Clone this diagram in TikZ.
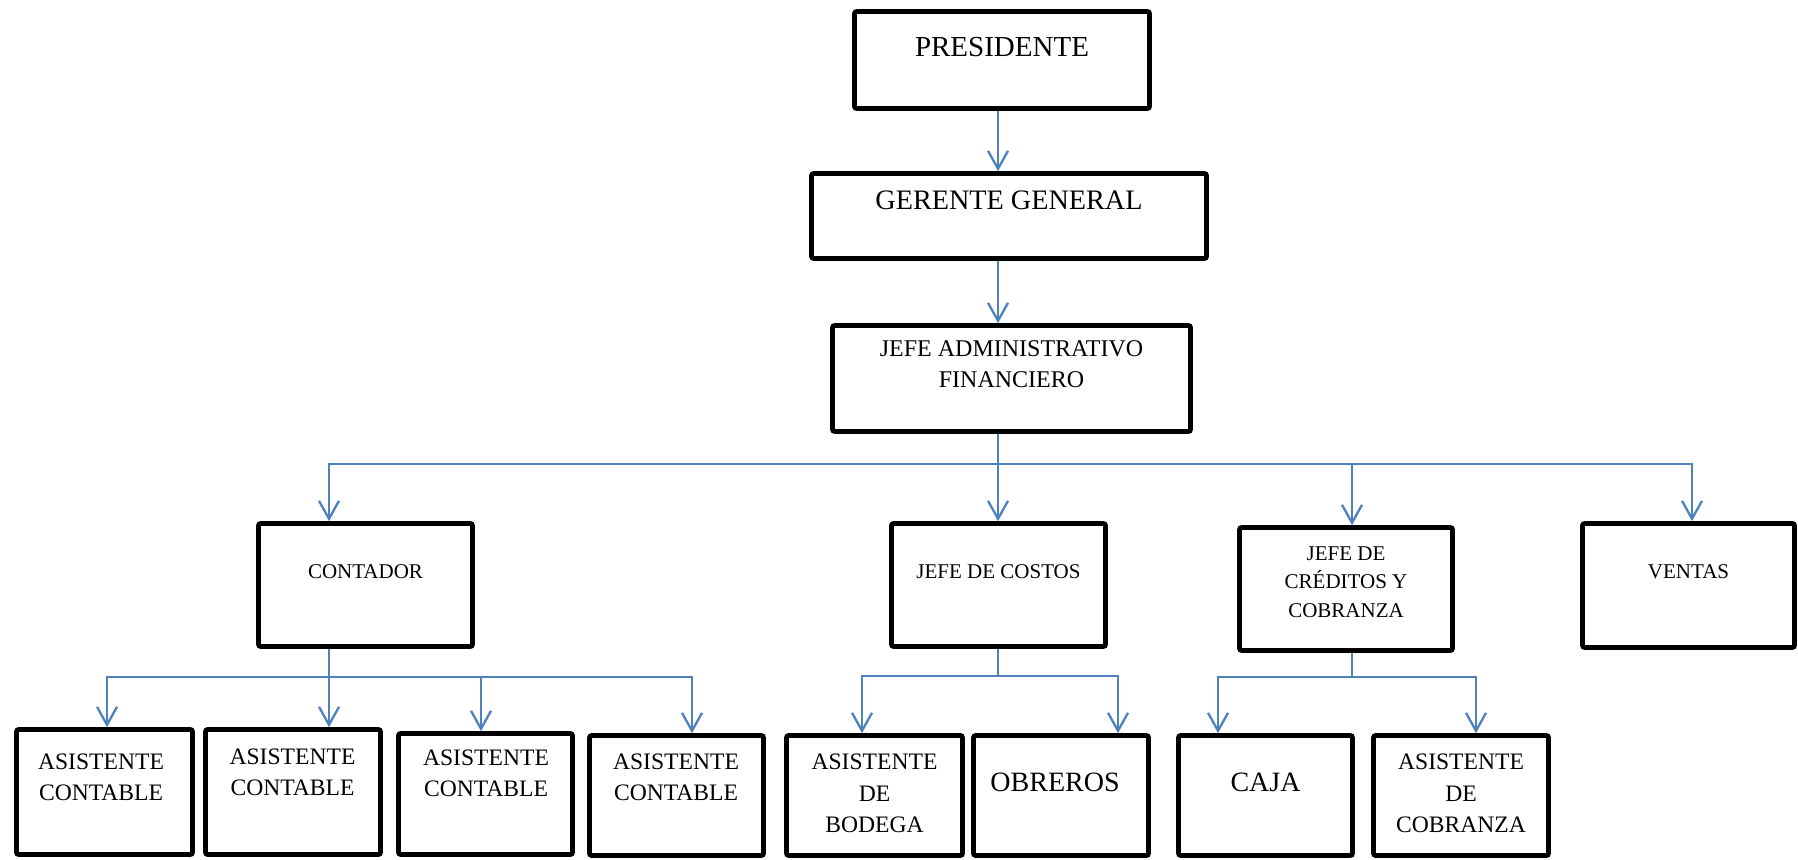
\documentclass[tikz,border=0pt]{standalone}
\usepackage{fontspec}
\setmainfont{Liberation Serif}
\usetikzlibrary{arrows.meta}
\definecolor{lineblue}{RGB}{79,129,189}
\begin{document}
\begin{tikzpicture}[x=0.5pt,y=-0.5pt,
  box/.style 2 args={draw=black, line width=2.3pt, rounded corners=1pt, inner sep=0pt,
    minimum width=#1*0.5pt, minimum height=#2*0.5pt},
  lbl/.style={inner sep=0pt, align=center},
  big/.style={lbl, font=\fontsize{14.5}{17}\selectfont},
  mid/.style={lbl, font=\fontsize{12}{15.5}\selectfont},
  small/.style={lbl, font=\fontsize{10.5}{14.25}\selectfont},
  asis/.style={lbl, font=\fontsize{11.8}{15.6}\selectfont},
  arr/.style={draw=lineblue, line width=1.15pt, line join=miter,
    -{Straight Barb[length=9pt,width=10pt,line width=1.15pt]}},
  link/.style={draw=lineblue, line width=1.15pt}]
\useasboundingbox (0,0) rectangle (1798,860);

% ---- boxes ----
\node[box={295}{97}]  (pres) at (1002,60) {};
\node[box={395}{85}]  (ger)  at (1009,216) {};
\node[box={358}{106}] (jaf)  at (1011.5,378.5) {};

\node[box={214}{123}] (cont) at (365.5,585) {};
\node[box={214}{123}] (cost) at (998.5,585) {};
\node[box={213}{123}] (cred) at (1346,589) {};
\node[box={212}{124}] (vent) at (1688.5,585.5) {};

\node[box={176}{125}] (ac1)  at (104.5,792) {};
\node[box={175}{125}] (ac2)  at (293,792) {};
\node[box={174}{121}] (ac3)  at (485.5,794) {};
\node[box={174}{120}] (ac4)  at (676.5,795.5) {};
\node[box={176}{120}] (bod)  at (874.5,795.5) {};
\node[box={175}{120}] (obr)  at (1061,795.5) {};
\node[box={174}{120}] (caja) at (1265.5,795.5) {};
\node[box={175}{120}] (acob) at (1461,795.5) {};

% ---- labels ----
\node[big] (pres-t) at (1002,47) {PRESIDENTE};
\node[big, font=\fontsize{14.1}{17}\selectfont] (ger-t) at (1009,200) {GERENTE GENERAL};
\node[mid] (jaf-t) at (1011.5,364.5) {JEFE ADMINISTRATIVO\\FINANCIERO};

\node[small] (cont-t) at (365.5,572) {CONTADOR};
\node[small] (cost-t) at (998.5,572) {JEFE DE COSTOS};
\node[small] (cred-t) at (1346,582) {JEFE DE\\CRÉDITOS Y\\COBRANZA};
\node[small] (vent-t) at (1688.5,572) {VENTAS};

\node[asis] (ac1-t) at (101,777.5) {ASISTENTE\\CONTABLE};
\node[asis] (ac2-t) at (292.5,772) {ASISTENTE\\CONTABLE};
\node[asis] (ac3-t) at (486,773.5) {ASISTENTE\\CONTABLE};
\node[asis] (ac4-t) at (676,777) {ASISTENTE\\CONTABLE};
\node[asis, font=\fontsize{11.8}{15.75}\selectfont] (bod-t) at (874.5,793.5) {ASISTENTE\\DE\\BODEGA};
\node[big, font=\fontsize{14}{17}\selectfont] (obr-t) at (1055,782) {OBREROS};
\node[big, font=\fontsize{14}{17}\selectfont] (caja-t) at (1265.5,782) {CAJA};
\node[asis, font=\fontsize{11.8}{15.75}\selectfont] (acob-t) at (1461,793.5) {ASISTENTE\\DE\\COBRANZA};

% ---- junction points ----
\coordinate (spine) at (998,464);
\coordinate (busL)  at (329,464);
\coordinate (busC)  at (1352,464);
\coordinate (busR)  at (1692,464);

\coordinate (cbL) at (107,677);
\coordinate (cbM) at (481,677);
\coordinate (cbR) at (692,677);

\coordinate (kbL) at (862,676);
\coordinate (kbR) at (1118,676);

\coordinate (rbL) at (1218,677);
\coordinate (rbR) at (1476,677);

% ---- top chain ----
\draw[arr] (pres.south -| spine) -- (ger.north -| spine);
\draw[arr] (ger.south -| spine) -- (jaf.north -| spine);
\draw[arr] (jaf.south -| spine) -- (cost.north -| spine);

% ---- second-level bus ----
\draw[arr] (spine) -- (busL) -- (busL |- cont.north);
\draw[arr] (spine) -- (busR) -- (busR |- vent.north);
\draw[arr] (busC) -- (busC |- cred.north);

% ---- under CONTADOR ----
\draw[arr] (cont.south -| busL) -- (ac2.north -| busL);
\draw[arr] (busL |- cbL) -- (cbL) -- (cbL |- ac1.north);
\draw[arr] (busL |- cbL) -- (cbR) -- (cbR |- ac4.north);
\draw[arr] (cbM) -- (cbM |- ac3.north);

% ---- under JEFE DE COSTOS ----
\draw[link] (cost.south -| spine) -- (spine |- kbL);
\draw[arr] (spine |- kbL) -- (kbL) -- (kbL |- bod.north);
\draw[arr] (spine |- kbL) -- (kbR) -- (kbR |- obr.north);

% ---- under JEFE DE CREDITOS ----
\draw[link] (cred.south -| busC) -- (busC |- rbL);
\draw[arr] (busC |- rbL) -- (rbL) -- (rbL |- caja.north);
\draw[arr] (busC |- rbL) -- (rbR) -- (rbR |- acob.north);
\end{tikzpicture}
\end{document}
